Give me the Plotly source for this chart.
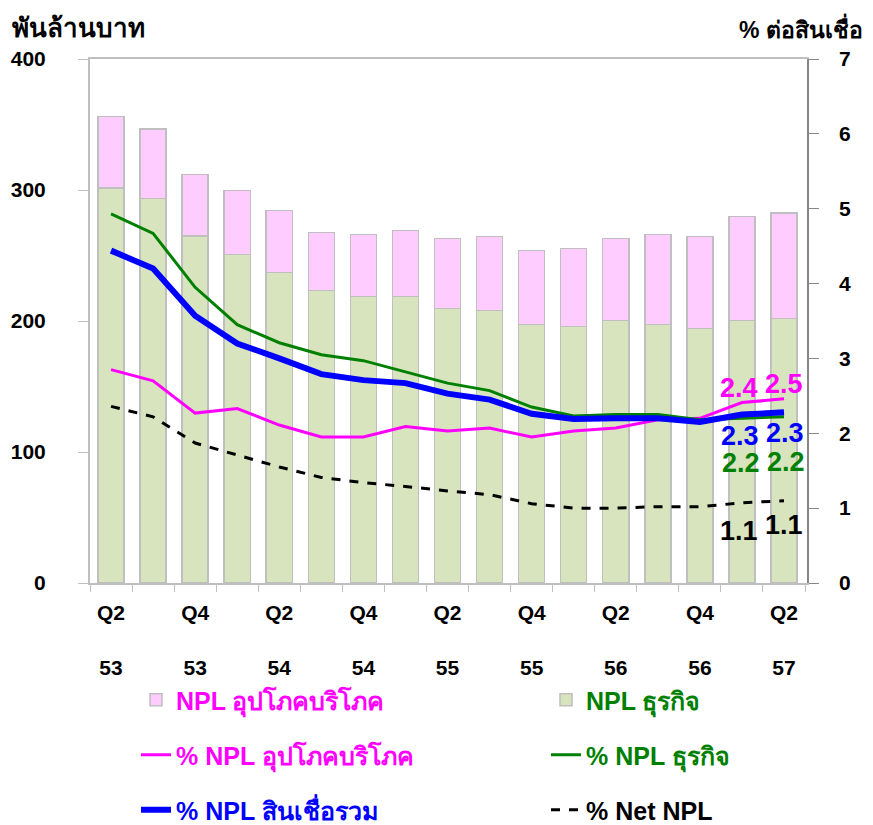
import plotly.graph_objects as go

categories = ["Q2 53", "Q3 53", "Q4 53", "Q1 54", "Q2 54", "Q3 54", "Q4 54", "Q1 55", "Q2 55",
              "Q3 55", "Q4 55", "Q1 56", "Q2 56", "Q3 56", "Q4 56", "Q1 57", "Q2 57"]
tick_labels = ["Q2<br><br>53", "", "Q4<br><br>53", "", "Q2<br><br>54", "", "Q4<br><br>54", "",
               "Q2<br><br>55", "", "Q4<br><br>55", "", "Q2<br><br>56", "", "Q4<br><br>56", "",
               "Q2<br><br>57"]
pct_ticks = [0, 1, 2, 3, 4, 5, 6, 7]

npl_business = [301.5, 293.4, 264.7, 250.9, 237.2, 223.2, 218.6, 218.6, 209.7,
                208.1, 197.5, 195.9, 200.5, 197.5, 194.4, 200.5, 202.0]
npl_consumer = [54.5, 53.2, 47.0, 48.9, 47.3, 44.5, 47.3, 50.6, 53.4,
                56.5, 56.5, 59.6, 62.6, 68.4, 70.2, 79.1, 80.4]

pct_consumer = [2.85, 2.70, 2.27, 2.33, 2.11, 1.95, 1.95, 2.09, 2.03,
                2.07, 1.95, 2.03, 2.07, 2.18, 2.20, 2.41, 2.46]
pct_business = [4.93, 4.67, 3.95, 3.45, 3.21, 3.05, 2.97, 2.82, 2.67,
                2.57, 2.35, 2.23, 2.25, 2.25, 2.18, 2.20, 2.22]
pct_total = [4.44, 4.20, 3.57, 3.20, 3.00, 2.79, 2.71, 2.67, 2.53,
             2.45, 2.26, 2.19, 2.20, 2.20, 2.15, 2.25, 2.28]
pct_net = [2.36, 2.22, 1.87, 1.71, 1.55, 1.41, 1.34, 1.29, 1.23,
           1.18, 1.06, 1.00, 1.00, 1.02, 1.02, 1.07, 1.10]

lbl_consumer = ["2.4", "2.5"]
lbl_total = ["2.3", "2.3"]
lbl_business = ["2.2", "2.2"]
lbl_net = ["1.1", "1.1"]

FONT = "Liberation Sans Narrow, Arial Narrow, Liberation Sans, Arial, sans-serif"
FONT2 = "Liberation Sans, Arial, sans-serif"
PINK, GREEN, BLUE = "#FF00FF", "#008000", "#0000FF"

# page body has an 8px margin, so the figure is sized to fit the remaining window
W, H = 865, 817
ML, MR, MT, MB = 82, 66, 51, 242
PW, PH = W - ML - MR, H - MT - MB

fig = go.Figure()
fig.add_trace(go.Bar(x=categories, y=npl_business,
                     name=f"<span style='color:{GREEN}'><b>NPL ธุรกิจ</b></span>",
                     marker=dict(color="#D7E4BD", line=dict(color="#BFBFBF", width=1.5)),
                     legend="legend2"))
fig.add_trace(go.Bar(x=categories, y=npl_consumer,
                     name=f"<span style='color:{PINK}'><b>NPL อุปโภคบริโภค</b></span>",
                     marker=dict(color="#FFCCFF", line=dict(color="#BFBFBF", width=1.5)),
                     legend="legend"))
fig.add_trace(go.Scatter(x=categories, y=pct_consumer, yaxis="y2", mode="lines",
                         name=f"<span style='color:{PINK}'><b>% NPL อุปโภคบริโภค</b></span>",
                         line=dict(color=PINK, width=3), legend="legend3"))
fig.add_trace(go.Scatter(x=categories, y=pct_business, yaxis="y2", mode="lines",
                         name=f"<span style='color:{GREEN}'><b>% NPL ธุรกิจ</b></span>",
                         line=dict(color=GREEN, width=3), legend="legend4"))
fig.add_trace(go.Scatter(x=categories, y=pct_net, yaxis="y2", mode="lines",
                         name="<span style='color:black'><b>% Net NPL</b></span>",
                         line=dict(color="black", width=3, dash="dash"), legend="legend6"))
fig.add_trace(go.Scatter(x=categories, y=pct_total, yaxis="y2", mode="lines",
                         name=f"<span style='color:{BLUE}'><b>% NPL สินเชื่อรวม</b></span>",
                         line=dict(color=BLUE, width=6), legend="legend5"))

# data labels on the last two points
LS = 27
for i, idx in enumerate([15, 16]):
    xs = -3 if i == 0 else 0
    fig.add_annotation(x=categories[idx], y=pct_consumer[idx], yref="y2", text=f"<b>{lbl_consumer[i]}</b>",
                       showarrow=False, yshift=15, xshift=xs, font=dict(color=PINK, size=LS, family=FONT2))
    fig.add_annotation(x=categories[idx], y=pct_total[idx], yref="y2", text=f"<b>{lbl_total[i]}</b>",
                       showarrow=False, yshift=-21, xshift=xs + 1, font=dict(color=BLUE, size=LS, family=FONT2))
    fig.add_annotation(x=categories[idx], y=pct_business[idx], yref="y2", text=f"<b>{lbl_business[i]}</b>",
                       showarrow=False, yshift=-45, xshift=xs + 2, font=dict(color=GREEN, size=LS, family=FONT2))
    fig.add_annotation(x=categories[idx], y=pct_net[idx], yref="y2", text=f"<b>{lbl_net[i]}</b>",
                       showarrow=False, yshift=-28 if i == 0 else -24, xshift=xs,
                       font=dict(color="black", size=LS, family=FONT2))

fig.add_annotation(xref="paper", yref="paper", x=(2 - ML) / PW, y=1 + (MT - 20) / PH,
                   xanchor="left", yanchor="middle", text="<b>พันล้านบาท</b>", showarrow=False,
                   font=dict(size=26, color="black", family=FONT))
fig.add_annotation(xref="paper", yref="paper", x=(857 - ML) / PW, y=1 + (MT - 20) / PH,
                   xanchor="right", yanchor="middle", text="<b>% ต่อสินเชื่อ</b>", showarrow=False,
                   font=dict(size=23, color="black", family=FONT))

legend_common = dict(orientation="h", xanchor="left", yanchor="middle", xref="container", yref="container",
                     bgcolor="rgba(0,0,0,0)", font=dict(size=25, family=FONT2))
col1, col2 = 128 / W, 538 / W
rows = [1 - 692 / H, 1 - 747 / H, 1 - 802 / H]
tickf = dict(size=21, family=FONT, color="black", weight="bold")
fig.update_layout(
    width=W, height=H,
    margin=dict(l=ML, r=MR, t=MT, b=MB, autoexpand=False),
    plot_bgcolor="white", paper_bgcolor="white",
    barmode="stack", bargap=0.38, showlegend=True,
    font=dict(family=FONT, size=19, color="black"),
    xaxis=dict(type="category", tickvals=categories, ticktext=tick_labels, tickson="boundaries",
               ticks="outside", ticklen=7, tickcolor="#BFBFBF", showline=True, linecolor="#BFBFBF",
               linewidth=2, mirror=True, showgrid=False, tickfont=tickf, ticklabelstandoff=10),
    yaxis=dict(range=[0, 400], tickvals=[0, 100, 200, 300, 400], ticks="outside", ticklen=10,
               tickcolor="#BFBFBF", showline=True, linecolor="#BFBFBF", linewidth=2, showgrid=False,
               zeroline=False, tickfont=tickf, ticklabelstandoff=28),
    yaxis2=dict(range=[0, 7], tickvals=pct_ticks, ticktext=["\u2002\u2005" + str(v) for v in pct_ticks],
                overlaying="y", side="right", ticks="outside", ticklen=10,
                tickcolor="#868686", showline=True, linecolor="#868686", linewidth=2, showgrid=False,
                zeroline=False, tickfont=tickf),
    legend=dict(x=col1, y=rows[0], **legend_common),
    legend2=dict(x=col2, y=rows[0], **legend_common),
    legend3=dict(x=col1, y=rows[1], **legend_common),
    legend4=dict(x=col2, y=rows[1], **legend_common),
    legend5=dict(x=col1, y=rows[2], **legend_common),
    legend6=dict(x=col2, y=rows[2], **legend_common),
)

fig.write_html("out.html")
